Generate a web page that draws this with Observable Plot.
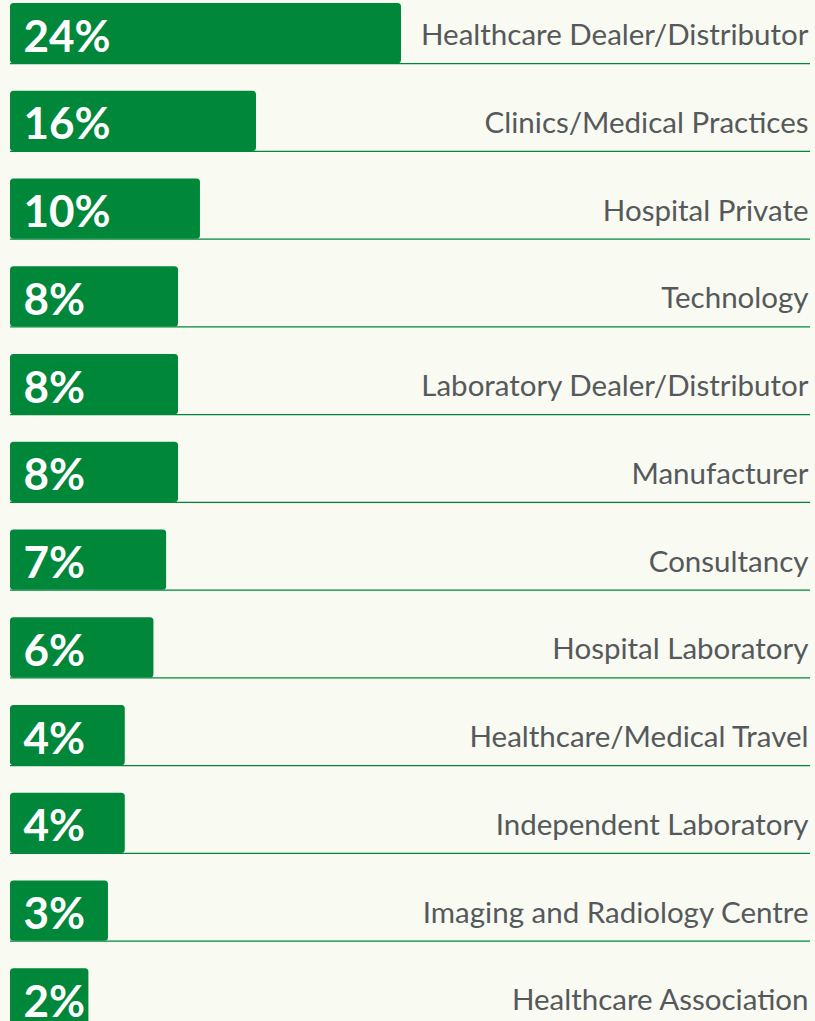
<!DOCTYPE html>
<html>
<head>
<meta charset="utf-8">
<script src="https://cdn.jsdelivr.net/npm/d3@7"></script>
<script src="https://cdn.jsdelivr.net/npm/@observablehq/plot@0.6"></script>
<style>
  html, body { margin: 0; padding: 0; background: #f9faf2; overflow: hidden; }
  #chart svg { display: block; }
</style>
</head>
<body>
<div id="chart"></div>
<script>
const categories = [
  "Healthcare Dealer/Distributor",
  "Clinics/Medical Practices",
  "Hospital Private",
  "Technology",
  "Laboratory Dealer/Distributor",
  "Manufacturer",
  "Consultancy",
  "Hospital Laboratory",
  "Healthcare/Medical Travel",
  "Independent Laboratory",
  "Imaging and Radiology Centre",
  "Healthcare Association"
];
const shares = [24, 16, 10, 8, 8, 8, 7, 6, 4, 4, 3, 2];

const data = categories.map((c, i) => ({category: c, value: shares[i]}));

const green = "#00873a";
const grey = "#55595b";

const chart = Plot.plot({
  width: 815,
  height: 1030,
  marginTop: 3,
  marginBottom: 1.5,
  marginLeft: 10,
  marginRight: 5,
  style: {background: "transparent", overflow: "visible"},
  x: {type: "pow", exponent: 0.55, domain: [0, 16, 24], range: [10, 256, 401], axis: null},
  y: {type: "band", domain: categories, paddingInner: 0.314, paddingOuter: 0, align: 0, round: false, axis: null},
  marks: [
    Plot.ruleY(data, {y: "category", dy: 30, stroke: green, strokeWidth: 1.2}),
    Plot.barX(data, {x: "value", y: "category", fill: green, rx: 3.5}),
    Plot.text(data, {
      y: "category", frameAnchor: "left", textAnchor: "start", dx: 13, dy: 4,
      text: d => `${d.value}%`, fill: "white", fontSize: 44, fontWeight: "bold",
      fontFamily: "Lato, sans-serif"
    }),
    Plot.text(data, {
      y: "category", frameAnchor: "right", textAnchor: "end", dx: -2, dy: 2,
      text: "category", fill: grey, fontSize: 29.5,
      fontFamily: "Lato, sans-serif"
    })
  ]
});
document.getElementById("chart").appendChild(chart);
</script>
</body>
</html>
